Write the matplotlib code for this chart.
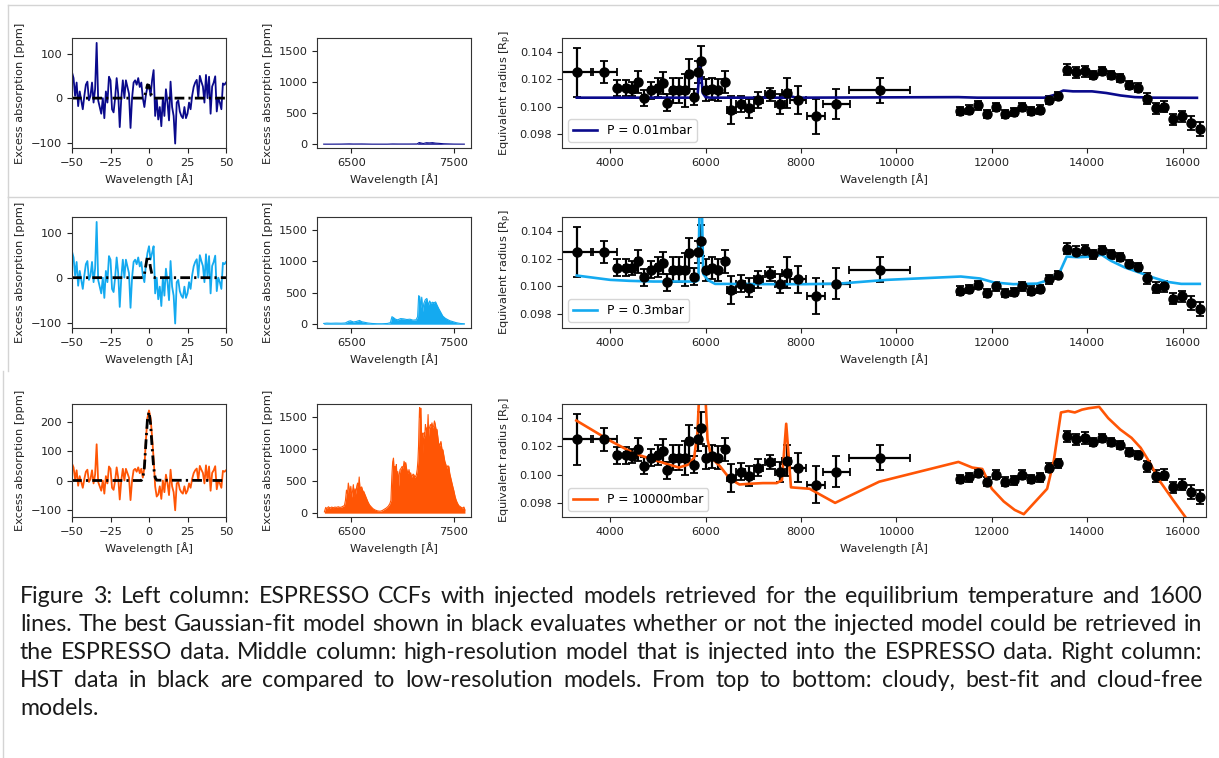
import matplotlib
matplotlib.use('Agg')
import matplotlib.pyplot as plt
from matplotlib.lines import Line2D
from matplotlib.transforms import Bbox, TransformedBbox

plt.rcParams['font.family'] = ['DejaVu Sans']
plt.rcParams['font.size'] = 8.2
plt.rcParams['axes.linewidth'] = 0.8

# ---------------- left column: CCFs ----------------
ccf_v = list(range(-50, 51))
# row 1 residual CCF (cloudy model injected)
ccf_row1 = [58, 45, 5, 35, -18, 15, -5, -25, 5, 30,
            37, -5, 5, 35, -10, 20, 124, -5, -20, -35,
            0, -45, 15, -10, 48, 40, -25, -32, 0, 45,
            10, -65, 0, 40, 0, 40, 25, 10, -67, 0,
            35, 40, 30, 45, 25, 35, 0, -20, 8, 25,
            30, 5, 40, 63, -40, 0, -48, -20, -63, 0,
            -40, 20, -10, -50, 37, -20, -40, -102, -10, -5,
            -30, -40, -45, -20, -45, -35, -10, -25, 5, 25,
            35, 41, 0, 50, 37, 26, -10, 52, 0, 48,
            -35, 26, 35, 49, -30, 0, -10, -25, 33, 30,
            35]
# rows 2 and 3 differ only in the core (v = -5 .. 5)
core_v = [-5, -4, -3, -2, -1, 0, 1, 2, 3, 4, 5]
core_row2 = [35, 5, -10, 30, 55, 70, 40, 55, 70, -35, 0]
core_row3 = [40, 10, 45, 140, 215, 240, 215, 150, 75, -20, -55]

fit_v = [-50, -5, -4, -3, -2, -1, 0, 1, 2, 3, 4, 5, 50]
fit_row1 = [0, 0, 0, 3, 15, 30, 28, 12, 3, 0, 0, 0, 0]
fit_row2 = [0, 0, 1, 8, 28, 48, 45, 22, 6, 1, 0, 0, 0]
fit_row3 = [0, 0, 8, 45, 130, 210, 235, 195, 115, 45, 10, 1, 0]

# ---------------- middle column: high-res models ----------------
hr1_wl = [6230, 6300, 6400, 6480, 6520, 6600, 6700, 6850, 6900, 6950,
          7050, 7140, 7160, 7180, 7200, 7230, 7260, 7290, 7320, 7350,
          7400, 7500, 7600]
hr1_val = [2, 2, 3, 6, 4, 5, 2, 2, 5, 4,
           4, 5, 28, 20, 12, 25, 22, 26, 18, 15,
           8, 3, 2]

hr2_wl = [6230, 6260, 6300, 6350, 6400, 6440, 6470, 6490, 6520, 6550,
          6580, 6600, 6630, 6660, 6700, 6750, 6800, 6850, 6880, 6895,
          6910, 6930, 6950, 6980, 7010, 7040, 7070, 7100, 7130, 7145,
          7155, 7165, 7175, 7185, 7195, 7205, 7220, 7235, 7250, 7262,
          7275, 7290, 7305, 7320, 7335, 7350, 7370, 7390, 7410, 7430,
          7460, 7490, 7520, 7560, 7600]
hr2_val = [12, 18, 15, 18, 16, 20, 45, 55, 35, 45,
           60, 40, 30, 20, 12, 8, 8, 12, 25, 120,
           105, 80, 70, 90, 85, 75, 80, 65, 70, 120,
           455, 440, 260, 430, 200, 330, 390, 410, 300, 370,
           330, 350, 340, 355, 300, 250, 190, 130, 100, 80,
           55, 40, 25, 12, 8]

hr3_wl = [6237, 6250, 6262, 6276, 6292, 6308, 6324, 6340, 6356, 6372,
          6388, 6404, 6420, 6432, 6442, 6452, 6462, 6470, 6478, 6486,
          6494, 6502, 6510, 6519, 6528, 6536, 6544, 6552, 6560, 6568,
          6576, 6584, 6592, 6600, 6610, 6620, 6632, 6645, 6660, 6676,
          6692, 6710, 6730, 6756, 6780, 6800, 6820, 6840, 6860, 6875,
          6885, 6894, 6902, 6910, 6917, 6924, 6931, 6938, 6945, 6952,
          6960, 6966, 6974, 6984, 6994, 7004, 7013, 7021, 7029, 7037,
          7045, 7053, 7061, 7069, 7077, 7085, 7093, 7101, 7109, 7117,
          7125, 7133, 7141, 7148, 7154, 7159, 7164, 7170, 7176, 7181,
          7186, 7191, 7196, 7202, 7208, 7214, 7221, 7227, 7234, 7240,
          7247, 7252, 7256, 7262, 7269, 7277, 7285, 7293, 7301, 7309,
          7317, 7325, 7333, 7341, 7349, 7360, 7372, 7382, 7391, 7400,
          7410, 7420, 7429, 7439, 7449, 7458, 7468, 7478, 7487, 7498,
          7510, 7521, 7532, 7545, 7558, 7570, 7583, 7596, 7606]
hr3_val = [20, 90, 70, 100, 80, 95, 85, 95, 90, 100,
           90, 95, 110, 120, 200, 360, 300, 470, 380, 300,
           420, 250, 330, 445, 260, 380, 300, 420, 470, 400,
           565, 380, 400, 410, 350, 340, 290, 240, 180, 130,
           100, 70, 50, 35, 30, 40, 60, 80, 110, 150,
           200, 575, 800, 860, 600, 730, 640, 760, 500, 650,
           420, 600, 680, 700, 730, 700, 810, 750, 790, 700,
           650, 620, 680, 600, 630, 560, 585, 610, 600, 560,
           575, 600, 680, 820, 1045, 1400, 1650, 1500, 1640, 1350,
           1100, 1250, 940, 1150, 1255, 1200, 1385, 1300, 1330, 1250,
           1540, 1200, 1310, 1340, 1385, 1360, 1410, 1330, 1360, 1440,
           1385, 1300, 1310, 1200, 1100, 1050, 1120, 1000, 990, 900,
           810, 760, 700, 740, 730, 620, 550, 480, 420, 350,
           260, 200, 160, 120, 105, 90, 80, 95, 50]

# ---------------- right column: HST data + low-res models ----------------
hst_wl = [3300, 3870, 4140, 4340, 4460, 4590, 4705, 4850, 5000, 5100,
          5200, 5320, 5440, 5560, 5655, 5765, 5850, 5905, 6000, 6125,
          6270, 6400, 6540, 6735, 6920, 7105, 7350, 7565, 7700, 7940,
          8310, 8740, 9650,
          11340, 11526, 11712, 11898, 12084, 12270, 12456, 12642, 12828, 13014,
          13200, 13386, 13572, 13758, 13944, 14130, 14316, 14502, 14688, 14874,
          15060, 15246, 15432, 15618, 15804, 15990, 16176, 16362]
hst_r = [0.1025, 0.1025, 0.10136, 0.10136, 0.1013, 0.1018, 0.10064, 0.1012, 0.1014, 0.1017,
         0.1003, 0.1012, 0.1012, 0.1012, 0.1024, 0.1007, 0.1025, 0.1033, 0.1012, 0.1013,
         0.1012, 0.1018, 0.09975, 0.1002, 0.0999, 0.1005, 0.1009, 0.1002, 0.1010, 0.1005,
         0.0993, 0.1002, 0.1012,
         0.0997, 0.0998, 0.1001, 0.0995, 0.1000, 0.0995, 0.0996, 0.1000, 0.0997, 0.0998,
         0.1005, 0.1008, 0.1027, 0.1025, 0.1026, 0.1023, 0.1026, 0.1023, 0.1021, 0.1016,
         0.1014, 0.1006, 0.0999, 0.1000, 0.0991, 0.0993, 0.0988, 0.0984]
hst_rerr = [0.0018, 0.0008, 0.0006, 0.0006, 0.0005, 0.0008, 0.0006, 0.0006, 0.0007, 0.0008,
            0.0006, 0.0009, 0.0009, 0.0012, 0.0011, 0.0006, 0.0008, 0.0011, 0.0008, 0.0008,
            0.0008, 0.0008, 0.0010, 0.0006, 0.0007, 0.0006, 0.0005, 0.0007, 0.0011, 0.0010,
            0.0013, 0.0011, 0.0009,
            0.0003, 0.0003, 0.0003, 0.0003, 0.0003, 0.0003, 0.0003, 0.0003, 0.0003, 0.0003,
            0.0003, 0.0003, 0.0004, 0.0004, 0.0004, 0.0003, 0.0003, 0.0003, 0.0003, 0.0003,
            0.0003, 0.0004, 0.0004, 0.0004, 0.0004, 0.0004, 0.0005, 0.0005]
hst_wlerr = [340, 280, 40, 40, 40, 40, 40, 40, 40, 40,
             40, 40, 40, 40, 40, 40, 30, 30, 40, 40,
             40, 40, 100, 100, 100, 100, 100, 100, 100, 170,
             190, 280, 640,
             40, 40, 40, 40, 40, 40, 40, 40, 40, 40,
             40, 40, 40, 40, 40, 40, 40, 40, 40, 40,
             40, 40, 40, 40, 40, 40, 40, 40]

m1_wl = [3300, 5700, 5830, 5880, 5905, 5940, 6000, 6100, 7700, 7800,
         7900, 11300, 11700, 13100, 13300, 13500, 13700, 14100, 14400, 14700,
         15000, 15400, 16300]
m1_r = [0.10066, 0.10066, 0.10080, 0.10290, 0.10250, 0.10100, 0.10070, 0.10066, 0.10066, 0.10075,
        0.10066, 0.10070, 0.10066, 0.10066, 0.10085, 0.10118, 0.10112, 0.10112, 0.10100, 0.10082,
        0.10070, 0.10066, 0.10065]

m2_wl = [3300, 4000, 4400, 4900, 5800, 5850, 5870, 5885, 5905, 5925,
         5950, 6050, 6200, 7400, 8100, 8800, 9800, 11350, 11750, 12050,
         12450, 12950, 13230, 13420, 13570, 13810, 14100, 14300, 14500, 14790,
         15090, 15380, 15670, 15970, 16360]
m2_r = [0.10078, 0.10047, 0.10040, 0.10035, 0.10035, 0.10045, 0.1052, 0.1065, 0.1065, 0.1052,
        0.10090, 0.10045, 0.10018, 0.10016, 0.10016, 0.10020, 0.10047, 0.10071, 0.10057, 0.10028,
        0.10016, 0.10020, 0.10050, 0.10100, 0.10215, 0.10210, 0.10215, 0.10228, 0.10184, 0.10136,
        0.10100, 0.10064, 0.10033, 0.10018, 0.10018]

m3_wl = [3290, 4000, 4500, 5145, 5440, 5630, 5760, 5830, 5870, 5990,
         6040, 6120, 6300, 6510, 6710, 6900, 7200, 7490, 7600, 7690,
         7790, 8180, 8715, 9640, 11300, 11590, 11800, 12000, 12250, 12480,
         12670, 13160, 13300, 13450, 13600, 13740, 13890, 14030, 14250, 14440,
         14690, 14930, 15120, 15320, 15510, 15800, 16100]
m3_r = [0.10383, 0.10240, 0.10150, 0.10080, 0.10050, 0.10070, 0.10120, 0.10300, 0.1060, 0.1060,
        0.10250, 0.10120, 0.10060, 0.09970, 0.09930, 0.09935, 0.09940, 0.09940, 0.09960, 0.10360,
        0.09910, 0.09900, 0.09800, 0.09950, 0.10090, 0.10050, 0.10040, 0.09900, 0.09810, 0.09750,
        0.09720, 0.09900, 0.10100, 0.10440, 0.10450, 0.10440, 0.10460, 0.10470, 0.10480, 0.10400,
        0.10320, 0.10260, 0.10190, 0.10080, 0.09960, 0.09820, 0.09680]

labels = ['P = 0.01mbar', 'P = 0.3mbar', 'P = 10000mbar']
colors = ['#0a0a8c', '#14aaf0', '#ff5505']

caption = [
    "Figure 3: Left column: ESPRESSO CCFs with injected models retrieved for the equilibrium temperature and 1600",
    "lines. The best Gaussian-fit model shown in black evaluates whether or not the injected model could be retrieved in",
    "the ESPRESSO data. Middle column: high-resolution model that is injected into the ESPRESSO data. Right column:",
    "HST data in black are compared to low-resolution models. From top to bottom: cloudy, best-fit and cloud-free",
    "models.",
]

# ---------------- layout (pixels of the 1219x758 page) ----------------
W, H = 1219, 758
fig = plt.figure(figsize=(W / 100, H / 100), dpi=100)


def px_axes(x0, y0, x1, y1):
    return fig.add_axes([x0 / W, 1 - y1 / H, (x1 - x0) / W, (y1 - y0) / H])


def page_line(x0, y0, x1, y1):
    fig.add_artist(Line2D([x0 / W, x1 / W], [1 - y0 / H, 1 - y1 / H],
                          color='#d4d4d4', lw=1.0))


page_line(8, 5, W, 5)
page_line(8, 5, 8, 197)
page_line(8, 197, W, 197)
page_line(8, 197, 8, 371)
page_line(3, 371, 3, H)

rows_y = [(38, 148), (217, 328), (404, 517)]
ccf_rows = []
for core in [None, core_row2, core_row3]:
    vals = list(ccf_row1)
    if core is not None:
        for v, c in zip(core_v, core):
            vals[ccf_v.index(v)] = c
    ccf_rows.append(vals)
fits = [fit_row1, fit_row2, fit_row3]
hr = [(hr1_wl, hr1_val), (hr2_wl, hr2_val), (hr3_wl, hr3_val)]
models = [(m1_wl, m1_r), (m2_wl, m2_r), (m3_wl, m3_r)]
ccf_ylims = [(-112, 135), (-112, 135), (-125, 262)]
ccf_yticks = [[-100, 0, 100], [-100, 0, 100], [-100, 0, 100, 200]]
txt_col = '#222222'

for i, (y0, y1) in enumerate(rows_y):
    c = colors[i]

    # left: CCF
    ax = px_axes(72, y0, 226, y1)
    ax.plot(ccf_v, ccf_rows[i], color=c, lw=1.3)
    ax.plot(fit_v, fits[i], color='k', lw=2, linestyle=(0, (3.5, 1.5, 0.8, 1.5)))
    ax.set_xlim(-50, 50)
    ax.set_ylim(*ccf_ylims[i])
    ax.set_xticks([-50, -25, 0, 25, 50])
    ax.set_yticks(ccf_yticks[i])
    ax.set_xlabel('Wavelength [Å]', color=txt_col)
    ax.set_ylabel('Excess absorption [ppm]', color=txt_col)
    axes_row = [ax]

    # middle: high-res injected model
    ax = px_axes(317, y0, 471, y1)
    wl, val = hr[i]
    ax.fill_between(wl, 0, val, color=c, lw=0)
    ax.plot(wl, val, color=c, lw=0.8)
    ax.set_xlim(6165, 7665)
    ax.set_ylim(-60, 1705)
    ax.set_xticks([6500, 7500])
    ax.set_yticks([0, 500, 1000, 1500])
    ax.set_xlabel('Wavelength [Å]', color=txt_col)
    ax.set_ylabel('Excess absorption [ppm]', color=txt_col)
    axes_row.append(ax)

    # right: HST data vs low-res model
    ax = px_axes(562, y0, 1206, y1)
    ax.errorbar(hst_wl, hst_r, yerr=hst_rerr, xerr=hst_wlerr, fmt='o', color='k',
                ms=6.5, elinewidth=1.6, capsize=2.8, capthick=1.3)
    mw, mr = models[i]
    ax.plot(mw, mr, color=c, lw=1.9, label=labels[i])
    ax.set_xlim(2990, 16490)
    ax.set_ylim(0.097, 0.105)
    ax.set_xticks([4000, 6000, 8000, 10000, 12000, 14000, 16000])
    ax.set_yticks([0.098, 0.100, 0.102, 0.104])
    ax.set_xlabel('Wavelength [Å]', color=txt_col)
    ax.set_ylabel(r'Equivalent radius [R$_\mathrm{p}$]', color=txt_col)
    ax.legend(loc='lower left', fontsize=8.8, handlelength=2.0)
    axes_row.append(ax)

    for a in axes_row:
        a.tick_params(colors=txt_col, labelsize=8.2, length=3.5, width=0.8)
        for s in a.spines.values():
            s.set_color('#333333')

    if i == 1:
        # the middle strip of the page cuts off the top of its labels
        clip = TransformedBbox(Bbox([[0, 0], [1, 1 - 199 / H]]), fig.transFigure)
        for a in axes_row:
            a.yaxis.label.set_clip_box(clip)
            a.yaxis.label.set_clip_on(True)

# ---------------- caption (justified) ----------------
renderer = fig.canvas.get_renderer()
cap_font = ['Lato', 'DejaVu Sans']
cap_x0, cap_x1 = 20, 1202
# size the caption so the fullest line just fits with ordinary spaces
probe = fig.text(0, 0, caption[1], fontsize=14, family=cap_font)
cap_fs = 14 * (cap_x1 - cap_x0 - 6) / probe.get_window_extent(renderer).width
probe.remove()
space = 0.26 * cap_fs * 100 / 72

cap_base = [603, 631, 659, 687, 715]
for k, line in enumerate(caption):
    words = line.split(' ')
    texts = [fig.text(0, 1 - cap_base[k] / H, w, fontsize=cap_fs, family=cap_font,
                      va='baseline', ha='left', color='#1a1a1a') for w in words]
    widths = [t.get_window_extent(renderer).width for t in texts]
    if k < len(caption) - 1 and len(words) > 1:
        gap = (cap_x1 - cap_x0 - sum(widths)) / (len(words) - 1)
    else:
        gap = space
    x = cap_x0
    for t, w in zip(texts, widths):
        t.set_x(x / W)
        x += w + gap

fig.savefig('out.png', dpi=100)
